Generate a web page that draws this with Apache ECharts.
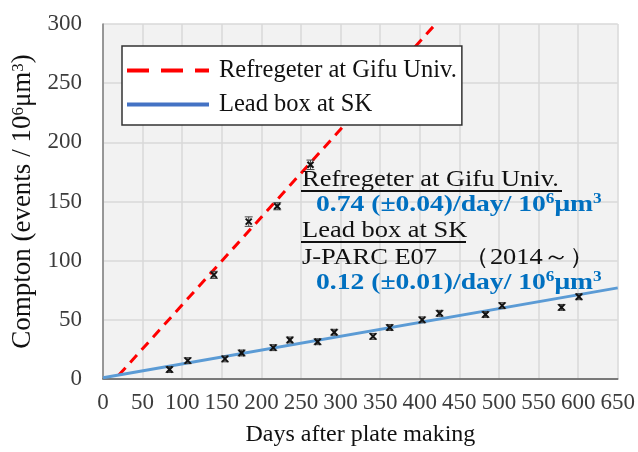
<!DOCTYPE html>
<html>
<head>
<meta charset="utf-8">
<script src="https://cdn.jsdelivr.net/npm/echarts@6/dist/echarts.min.js"></script>
<style>
html,body{margin:0;padding:0;background:#fff;}
#chart{width:638px;height:452px;}
</style>
</head>
<body>
<div id="chart"></div>
<script>
// ---- data ----
const xTicks = [0, 650, 50];   // min, max, interval (days)
const yTicks = [0, 300, 50];   // min, max, interval (events)

const gifuDays = [140, 184, 220, 262];
const gifuVals = [88, 133, 146, 181];
const gifuErr  = [3, 4, 3, 4];

const skDays = [84, 107, 154, 175, 215, 236, 271, 292, 341, 362, 403, 425, 483, 504, 579, 601];
const skVals = [8, 15.5, 17, 22, 26.5, 33, 31.5, 39.5, 36, 43.5, 50, 55.5, 54.5, 62, 60.5, 69.5];
const skErr  = [2.5, 2.5, 2.5, 2.5, 2.5, 2.5, 2.5, 2.5, 2.5, 2.5, 2.5, 2.5, 2.5, 2.5, 2.5, 2.5];

const gifuFitX = [20, 420];
const gifuFitY = [3.3, 300];
const skFitX = [0, 650];
const skFitY = [1, 77];

const gifuName = 'Refregeter at Gifu Univ.';
const skName = 'Lead box at SK';

// ---- build ----
const SERIF = 'Liberation Serif';
const zip = (a, b, c) => a.map((v, i) => c ? [v, b[i], c[i]] : [v, b[i]]);

function errItem(params, api) {
  const x = api.value(0), y = api.value(1), e = api.value(2);
  const c = api.coord([x, y]);
  const hi = api.coord([x, y + e]);
  const lo = api.coord([x, y - e]);
  const w = 4, m = 3;
  const st = {stroke: '#444', lineWidth: 1};
  const mk = {stroke: '#111', lineWidth: 2};
  return {type: 'group', children: [
    {type: 'line', shape: {x1: c[0], y1: hi[1], x2: c[0], y2: lo[1]}, style: st},
    {type: 'line', shape: {x1: c[0] - w, y1: hi[1], x2: c[0] + w, y2: hi[1]}, style: st},
    {type: 'line', shape: {x1: c[0] - w, y1: lo[1], x2: c[0] + w, y2: lo[1]}, style: st},
    {type: 'line', shape: {x1: c[0] - m, y1: c[1] - m, x2: c[0] + m, y2: c[1] + m}, style: mk},
    {type: 'line', shape: {x1: c[0] - m, y1: c[1] + m, x2: c[0] + m, y2: c[1] - m}, style: mk}
  ]};
}

const chart = echarts.init(document.getElementById('chart'));
const axisLabel = {color: '#3c3c3c', fontFamily: SERIF, fontSize: 23};
const split = {show: true, lineStyle: {color: '#d9d9d9', width: 1.5}};

function txt(x, y, text, opts) {
  return {
    type: 'text', x: x, y: y, scaleX: 1.15, z: 100,
    style: Object.assign({
      text: text, fill: '#111', fontFamily: SERIF, fontSize: 23,
      align: 'left', verticalAlign: 'middle',
      textAlign: 'left', textVerticalAlign: 'middle'
    }, opts || {})
  };
}
const blueRich = {
  b: {fontFamily: SERIF, fontSize: 24, fontWeight: 'bold', fill: '#0070c0', color: '#0070c0'},
  s: {fontFamily: SERIF, fontSize: 15, fontWeight: 'bold', fill: '#0070c0', color: '#0070c0', verticalAlign: 'top', lineHeight: 26}
};

chart.setOption({
  animation: false,
  backgroundColor: '#ffffff',
  textStyle: {fontFamily: SERIF},
  grid: {left: 103, right: 14, top: 24, bottom: 71, show: true, backgroundColor: '#f2f2f2', borderWidth: 0},
  legend: {
    orient: 'vertical', left: 122, top: 46,
    padding: [12, 5, 8, 3], itemGap: 9, itemWidth: 82, itemHeight: 14,
    backgroundColor: '#ffffff', borderColor: '#333', borderWidth: 1.5,
    textStyle: {fontFamily: SERIF, fontSize: 24.5, color: '#111', lineHeight: 20, padding: [0, 0, 0, 5]},
    data: [
      {name: gifuName, itemStyle: {opacity: 0}, lineStyle: {color: '#ff0000', width: 4, type: [22, 12]}},
      {name: skName, itemStyle: {opacity: 0}, lineStyle: {color: '#4472c4', width: 4, type: 'solid'}}
    ]
  },
  xAxis: [{
    type: 'value', min: xTicks[0], max: xTicks[1], interval: xTicks[2],
    name: 'Days after plate making', nameLocation: 'middle', nameGap: 44,
    nameTextStyle: {fontFamily: SERIF, fontSize: 24, color: '#111'},
    axisLine: {show: true, lineStyle: {color: '#d9d9d9', width: 1}},
    axisTick: {show: false},
    axisLabel: Object.assign({margin: 12}, axisLabel),
    splitLine: split
  }, {
    type: 'value', position: 'top', min: xTicks[0], max: xTicks[1], interval: xTicks[2],
    axisLine: {show: true, lineStyle: {color: '#595959', width: 1.5}},
    axisTick: {show: false}, axisLabel: {show: false}, splitLine: {show: false}
  }],
  yAxis: [{
    type: 'value', min: yTicks[0], max: yTicks[1], interval: yTicks[2],
    name: 'Compton (events / 10{s|6}μm{s|3})', nameLocation: 'middle', nameGap: 58, nameRotate: 90,
    nameTextStyle: {
      fontFamily: SERIF, fontSize: 27, color: '#111',
      rich: {s: {fontFamily: SERIF, fontSize: 17, color: '#111', verticalAlign: 'top', lineHeight: 24}}
    },
    axisLine: {show: true, lineStyle: {color: '#d9d9d9', width: 1}},
    axisTick: {show: false},
    axisLabel: Object.assign({margin: 21}, axisLabel),
    splitLine: split
  }, {
    type: 'value', position: 'right', min: yTicks[0], max: yTicks[1], interval: yTicks[2],
    axisLine: {show: true, lineStyle: {color: '#7f7f7f', width: 1.5}},
    axisTick: {show: false}, axisLabel: {show: false}, splitLine: {show: false}
  }],
  series: [
    {
      name: gifuName, type: 'line', data: zip(gifuFitX, gifuFitY), showSymbol: false, symbol: 'none',
      lineStyle: {color: '#ff0000', width: 3, type: [10, 7]}, itemStyle: {color: '#ff0000'}, z: 3
    },
    {
      name: skName, type: 'line', data: zip(skFitX, skFitY), showSymbol: false, symbol: 'none',
      lineStyle: {color: '#5b9bd5', width: 3}, itemStyle: {color: '#4472c4'}, z: 3
    },
    {name: 'gifuPts', type: 'custom', renderItem: errItem, data: zip(gifuDays, gifuVals, gifuErr), z: 5},
    {name: 'skPts', type: 'custom', renderItem: errItem, data: zip(skDays, skVals, skErr), z: 5}
  ],
  graphic: [
    txt(302, 180, 'Refregeter at Gifu Univ.'),
    {type: 'line', z: 100, shape: {x1: 301, y1: 191, x2: 562, y2: 191}, style: {stroke: '#111', lineWidth: 2}},
    txt(316, 205, '{b|0.74 (±0.04)/day/ 10}{s|6}{b|μm}{s|3}', {rich: blueRich, fill: '#0070c0'}),
    txt(302, 231, 'Lead box at SK'),
    {type: 'line', z: 100, shape: {x1: 301, y1: 242, x2: 466, y2: 242}, style: {stroke: '#111', lineWidth: 2}},
    txt(302, 258, 'J-PARC E07　（2014～）'),
    txt(316, 283, '{b|0.12 (±0.01)/day/ 10}{s|6}{b|μm}{s|3}', {rich: blueRich, fill: '#0070c0'})
  ]
});
</script>
</body>
</html>
